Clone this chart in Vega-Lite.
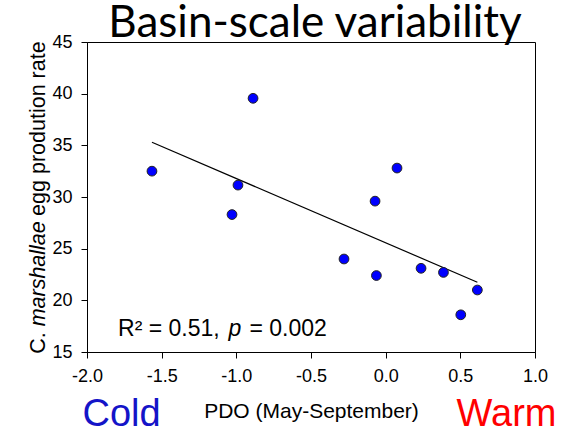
{
  "$schema": "https://vega.github.io/schema/vega-lite/v6.json",
  "width": 448,
  "height": 310,
  "autosize": {"type": "none"},
  "padding": {"left": 87, "top": 42, "right": 29, "bottom": 81},
  "background": "white",
  "title": {"text": "Basin-scale variability", "font": "Lato", "fontSize": 44, "fontWeight": "normal", "color": "black", "anchor": "middle", "offset": 2, "dx": 4, "dy": 15},
  "config": {
    "view": {"stroke": "black", "strokeWidth": 1},
    "axis": {"labelFont": "Liberation Sans", "labelFontSize": 18, "labelColor": "black", "tickColor": "black", "domainColor": "black", "grid": false, "tickSize": 6, "labelFlush": false, "labelOverlap": false, "titleFont": "Liberation Sans", "titleFontSize": 21, "titleFontWeight": "normal", "titleColor": "black"}
  },
  "datasets": {
    "points": [
      {"pdo": -1.565, "epr": 32.5},
      {"pdo": -1.029, "epr": 28.3},
      {"pdo": -0.989, "epr": 31.15},
      {"pdo": -0.888, "epr": 39.55},
      {"pdo": -0.279, "epr": 24.0},
      {"pdo": -0.071, "epr": 29.6},
      {"pdo": 0.076, "epr": 32.8},
      {"pdo": -0.062, "epr": 22.4},
      {"pdo": 0.237, "epr": 23.1},
      {"pdo": 0.387, "epr": 22.7},
      {"pdo": 0.503, "epr": 18.6},
      {"pdo": 0.614, "epr": 21.0}
    ],
    "fit": [
      {"pdo": -1.565, "epr": 35.3},
      {"pdo": 0.614, "epr": 21.75}
    ]
  },
  "layer": [
    {
      "data": {"name": "fit"},
      "mark": {"type": "line", "color": "black", "strokeWidth": 1.2},
      "encoding": {
        "x": {"field": "pdo", "type": "quantitative", "scale": {"domain": [-2, 1], "nice": false, "zero": false},
              "axis": {"values": [-2, -1.5, -1, -0.5, 0, 0.5, 1], "labelExpr": "(datum.value < 0 ? '-' : '') + format(abs(datum.value), '.1f')", "title": "PDO (May-September)", "labelPadding": 9, "titlePadding": 15}},
        "y": {"field": "epr", "type": "quantitative", "scale": {"domain": [15, 45], "nice": false, "zero": false},
              "axis": {"values": [15, 20, 25, 30, 35, 40, 45], "title": null, "labelPadding": 9}}
      }
    },
    {
      "data": {"name": "points"},
      "mark": {"type": "circle", "size": 95, "color": "#0000FF", "opacity": 1, "stroke": "#222222", "strokeWidth": 1},
      "encoding": {
        "x": {"field": "pdo", "type": "quantitative"},
        "y": {"field": "epr", "type": "quantitative"}
      }
    },
    {
      "data": {"values": [{"t": "C."}]},
      "mark": {"type": "text", "angle": 270, "align": "left", "baseline": "alphabetic", "font": "Liberation Sans", "fontSize": 21.5, "color": "black"},
      "encoding": {"x": {"datum": -2.281, "type": "quantitative"}, "y": {"datum": 14.83, "type": "quantitative"}, "text": {"field": "t"}}
    },
    {
      "data": {"values": [{"t": "marshallae"}]},
      "mark": {"type": "text", "angle": 270, "align": "left", "baseline": "alphabetic", "font": "Liberation Sans", "fontStyle": "italic", "fontSize": 21.5, "color": "black"},
      "encoding": {"x": {"datum": -2.281, "type": "quantitative"}, "y": {"datum": 17.48, "type": "quantitative"}, "text": {"field": "t"}}
    },
    {
      "data": {"values": [{"t": "egg prodution rate"}]},
      "mark": {"type": "text", "angle": 270, "align": "left", "baseline": "alphabetic", "font": "Liberation Sans", "fontSize": 21.5, "color": "black"},
      "encoding": {"x": {"datum": -2.281, "type": "quantitative"}, "y": {"datum": 28.17, "type": "quantitative"}, "text": {"field": "t"}}
    },
    {
      "data": {"values": [{"t": "R² = 0.51,"}]},
      "mark": {"type": "text", "align": "left", "baseline": "alphabetic", "font": "Liberation Sans", "fontSize": 23, "color": "black"},
      "encoding": {"x": {"datum": -1.792, "type": "quantitative"}, "y": {"datum": 16.57, "type": "quantitative"}, "text": {"field": "t"}}
    },
    {
      "data": {"values": [{"t": "p"}]},
      "mark": {"type": "text", "align": "left", "baseline": "alphabetic", "font": "Liberation Sans", "fontStyle": "italic", "fontSize": 23, "color": "black"},
      "encoding": {"x": {"datum": -1.052, "type": "quantitative"}, "y": {"datum": 16.57, "type": "quantitative"}, "text": {"field": "t"}}
    },
    {
      "data": {"values": [{"t": "= 0.002"}]},
      "mark": {"type": "text", "align": "left", "baseline": "alphabetic", "font": "Liberation Sans", "fontSize": 23, "color": "black"},
      "encoding": {"x": {"datum": -0.912, "type": "quantitative"}, "y": {"datum": 16.57, "type": "quantitative"}, "text": {"field": "t"}}
    },
    {
      "data": {"values": [{"t": "Cold"}]},
      "mark": {"type": "text", "align": "left", "baseline": "alphabetic", "font": "Liberation Sans", "fontSize": 38, "color": "#1414C8"},
      "encoding": {"x": {"datum": -2.03, "type": "quantitative"}, "y": {"datum": 7.87, "type": "quantitative"}, "text": {"field": "t"}}
    },
    {
      "data": {"values": [{"t": "Warm"}]},
      "mark": {"type": "text", "align": "left", "baseline": "alphabetic", "font": "Liberation Sans", "fontSize": 38, "color": "#FF0000"},
      "encoding": {"x": {"datum": 0.475, "type": "quantitative"}, "y": {"datum": 7.87, "type": "quantitative"}, "text": {"field": "t"}}
    }
  ]
}
